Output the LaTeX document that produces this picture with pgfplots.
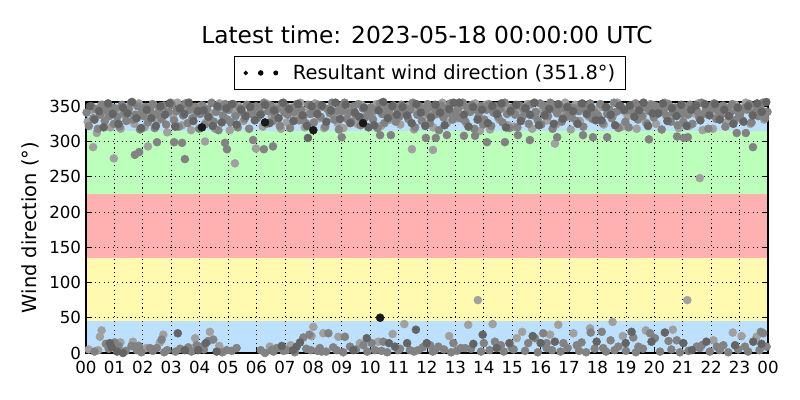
\documentclass[border=0pt]{standalone}
\usepackage{fontspec}
\setmainfont{DejaVu Sans}
\usepackage{pgfplots}
\pgfplotsset{compat=1.18}
\definecolor{bblue}{RGB}{189,224,255}
\definecolor{bgreen}{RGB}{187,255,187}
\definecolor{bred}{RGB}{255,176,176}
\definecolor{byellow}{RGB}{255,250,176}
\definecolor{cblack}{RGB}{25,25,25}
\definecolor{cdark}{RGB}{100,100,100}
\definecolor{cmid}{RGB}{130,130,130}
\definecolor{clight}{RGB}{160,160,160}
\begin{document}
\begin{tikzpicture}
\begin{axis}[
  set layers=standard,
  at={(61.92pt,33.84pt)}, anchor=south west,
  scale only axis, width=491.04pt, height=180.72pt,
  xmin=0, xmax=24, ymin=0, ymax=356,
  xtick={0,1,...,24},
  xticklabels={00,01,02,03,04,05,06,07,08,09,10,11,12,13,14,15,16,17,18,19,20,21,22,23,00},
  ytick={0,50,100,150,200,250,300,350},
  /pgf/number format/assume math mode=true,
  tick label style={font=\fontsize{12}{14}\selectfont},
  xticklabel style={yshift=-2.4pt},
  tick align=inside, major tick length=3.6pt,
  every tick/.style={black, line width=0.6pt},
  axis line style={line width=0.8pt},
  grid=major,
  major grid style={black, line width=0.5pt, dash pattern=on 0.8pt off 2.4pt},
  title={Latest time: 2023-05-18 00:00:00 UTC},
  title style={font=\fontsize{16.8}{20}\selectfont, at={(0.5,1)}, anchor=center, yshift=42.5pt},
  ylabel={Wind direction (°)},
  every axis y label/.style={at={(axis description cs:-0.082,0.5)}, rotate=90, anchor=center, font=\fontsize{14}{16}\selectfont},
  legend style={at={(0.5,1.05)}, anchor=south, xshift=2pt, draw=black, line width=0.6pt,
    font=\fontsize{14}{16}\selectfont, inner xsep=5pt, inner ysep=3.5pt},
  legend cell align=left,
  only marks,
]
\addlegendimage{legend image code/.code={
  \path[draw=none, fill=none] (-3pt,-0.5pt) rectangle (32pt,0.5pt);
  \fill[black] (0pt,0pt) circle (1.25pt);
  \fill[black] (10.8pt,0pt) circle (1.65pt);
  \fill[black] (21.6pt,0pt) circle (1.45pt);}}
\addlegendentry{Resultant wind direction (351.8°)}

% background bands
\addplot[forget plot, on layer=axis background, draw=none, fill=bblue, sharp plot] coordinates {(0,0) (24,0) (24,45) (0,45)} -- cycle;
\addplot[forget plot, on layer=axis background, draw=none, fill=byellow, sharp plot] coordinates {(0,45) (24,45) (24,135) (0,135)} -- cycle;
\addplot[forget plot, on layer=axis background, draw=none, fill=bred, sharp plot] coordinates {(0,135) (24,135) (24,225) (0,225)} -- cycle;
\addplot[forget plot, on layer=axis background, draw=none, fill=bgreen, sharp plot] coordinates {(0,225) (24,225) (24,315) (0,315)} -- cycle;
\addplot[forget plot, on layer=axis background, draw=none, fill=bblue, sharp plot] coordinates {(0,315) (24,315) (24,356) (0,356)} -- cycle;

% light points
\addplot[forget plot, clight, mark=*, mark size=2.9pt, mark options={line width=0.3pt}] coordinates {
(0.06,328)(0.22,345)(0.38,312)(0.54,352)(0.70,337)(0.86,320)
(1.06,343)(1.22,318)(1.38,336)(1.54,349)(1.70,325)(1.86,354)
(2.06,320)(2.22,341)(2.38,352)(2.54,330)(2.70,346)(2.86,313)
(3.06,337)(3.22,355)(3.38,323)(3.54,344)(3.70,316)(3.86,349)
(4.06,351)(4.22,327)(4.38,340)(4.54,318)(4.70,354)(4.86,333)
(5.06,316)(5.22,342)(5.38,350)(5.54,329)(5.70,338)(5.86,347)
(6.06,344)(6.22,321)(6.38,353)(6.54,335)(6.70,349)(6.86,318)
(7.06,327)(7.22,348)(7.38,336)(7.54,355)(7.70,320)(7.86,342)
(8.06,354)(8.22,333)(8.38,319)(8.54,345)(8.70,338)(8.86,326)
(9.06,319)(9.22,340)(9.38,347)(9.54,325)(9.70,352)(9.86,336)
(10.06,338)(10.22,353)(10.38,322)(10.54,345)(10.70,331)(10.86,349)
(11.06,324)(11.22,343)(11.38,351)(11.54,317)(11.70,346)(11.86,334)
(12.06,347)(12.22,320)(12.38,339)(12.54,355)(12.70,326)(12.86,343)
(13.06,333)(13.22,351)(13.38,326)(13.54,342)(13.70,354)(13.86,315)
(14.06,352)(14.22,317)(14.38,344)(14.54,331)(14.70,349)(14.86,323)
(15.06,321)(15.22,346)(15.38,337)(15.54,353)(15.70,318)(15.86,340)
(16.06,343)(16.22,330)(16.38,352)(16.54,324)(16.70,339)(16.86,355)
(17.06,317)(17.22,352)(17.38,329)(17.54,347)(17.70,335)(17.86,344)
(18.06,348)(18.22,324)(18.38,343)(18.54,336)(18.70,355)(18.86,321)
(19.06,336)(19.22,350)(19.38,318)(19.54,344)(19.70,327)(19.86,353)
(20.06,325)(20.22,343)(20.38,355)(20.54,333)(20.70,347)(20.86,319)
(21.06,350)(21.22,322)(21.38,340)(21.54,354)(21.70,316)(21.86,345)
(22.06,318)(22.22,339)(22.38,349)(22.54,327)(22.70,344)(22.86,352)
(23.06,344)(23.22,355)(23.38,325)(23.54,338)(23.70,350)(23.86,331)
(0.25,292)(0.98,276)(2.18,293)(4.19,300)(5.24,269)(5.98,290)(11.47,289)(12.21,288)(16.5,297)(21.6,248)
(0.10,5)(0.43,4)(0.55,32)(0.49,23)(1.21,15)(1.65,16)(2.13,7)(2.6,15)(2.72,26)(3.84,21)(4.36,30)(4.69,10)
(6.47,9)(7.20,11)(7.94,24)(8.0,37)(8.35,28)(8.88,23)(9.64,14)(10.28,16)(10.79,27)(11.2,41)(12.78,24)
(13.45,40)(13.79,75)(14.31,41)(15.16,21)(15.35,30)(16.33,26)(16.62,40)(17.15,28)(17.74,35)(18.53,44)
(18.89,24)(19.70,32)(20.65,33)(21.16,75)(22.08,18)(22.76,29)(23.07,24)(23.60,23)
};

% mid points
\addplot[forget plot, cmid, mark=*, mark size=2.9pt, mark options={line width=0.3pt}] coordinates {
(0.02,341)(0.10,322)(0.18,350)(0.26,333)(0.34,346)(0.42,318)(0.50,338)(0.58,352)(0.66,329)(0.74,344)(0.82,336)(0.90,348)(0.98,325)
(1.02,347)(1.10,335)(1.18,321)(1.26,352)(1.34,340)(1.42,329)(1.50,345)(1.58,355)(1.66,331)(1.74,338)(1.82,350)(1.90,317)(1.98,343)
(2.02,336)(2.10,349)(2.18,327)(2.26,344)(2.34,353)(2.42,319)(2.50,339)(2.58,347)(2.66,332)(2.74,351)(2.82,324)(2.90,342)(2.98,355)
(3.02,352)(3.10,330)(3.18,343)(3.26,321)(3.34,348)(3.42,337)(3.50,354)(3.58,326)(3.66,345)(3.74,333)(3.82,349)(3.90,340)(3.98,318)
(4.02,339)(4.10,351)(4.18,324)(4.26,346)(4.34,334)(4.42,355)(4.50,328)(4.58,342)(4.66,316)(4.74,349)(4.82,337)(4.90,353)(4.98,331)
(5.02,345)(5.10,327)(5.18,353)(5.26,336)(5.34,320)(5.42,347)(5.50,341)(5.58,332)(5.66,352)(5.74,318)(5.82,344)(5.90,338)(5.98,350)
(6.02,333)(6.10,348)(6.18,340)(6.26,355)(6.34,325)(6.42,343)(6.50,351)(6.58,329)(6.66,337)(6.74,346)(6.82,322)(6.90,354)(6.98,341)
(7.02,350)(7.10,338)(7.18,319)(7.26,347)(7.34,342)(7.42,353)(7.50,330)(7.58,345)(7.66,336)(7.74,326)(7.82,352)(7.90,339)(7.98,348)
(8.02,327)(8.10,344)(8.18,352)(8.26,335)(8.34,349)(8.42,321)(8.50,346)(8.58,340)(8.66,355)(8.74,331)(8.82,343)(8.90,317)(8.98,351)
(9.02,343)(9.10,355)(9.18,332)(9.26,341)(9.34,328)(9.42,350)(9.50,337)(9.58,353)(9.66,323)(9.74,347)(9.82,334)(9.90,345)(9.98,339)
(10.02,348)(10.10,331)(10.18,345)(10.26,319)(10.34,354)(10.42,339)(10.50,326)(10.58,349)(10.66,342)(10.74,336)(10.82,351)(10.90,328)(10.98,344)
(11.02,335)(11.10,352)(11.18,340)(11.26,347)(11.34,332)(11.42,345)(11.50,355)(11.58,320)(11.66,338)(11.74,350)(11.82,329)(11.90,346)(11.98,341)
(12.02,353)(12.10,326)(12.18,349)(12.26,338)(12.34,344)(12.42,316)(12.50,351)(12.58,334)(12.66,347)(12.74,340)(12.82,354)(12.90,331)(12.98,337)
(13.02,340)(13.10,347)(13.18,333)(13.26,355)(13.34,329)(13.42,348)(13.50,342)(13.58,352)(13.66,318)(13.74,345)(13.82,336)(13.90,350)(13.98,324)
(14.02,331)(14.10,345)(14.18,353)(14.26,322)(14.34,341)(14.42,350)(14.50,335)(14.58,346)(14.66,327)(14.74,355)(14.82,339)(14.90,319)(14.98,348)
(15.02,346)(15.10,338)(15.18,320)(15.26,351)(15.34,334)(15.42,344)(15.50,349)(15.58,325)(15.66,353)(15.74,337)(15.82,342)(15.90,330)(15.98,354)
(16.02,324)(16.10,351)(16.18,342)(16.26,336)(16.34,355)(16.42,318)(16.50,345)(16.58,340)(16.66,350)(16.74,328)(16.82,347)(16.90,335)(16.98,343)
(17.02,349)(17.10,334)(17.18,347)(17.26,329)(17.34,343)(17.42,352)(17.50,321)(17.58,346)(17.66,338)(17.74,354)(17.82,332)(17.90,341)(17.98,337)
(18.02,337)(18.10,353)(18.18,326)(18.26,348)(18.34,339)(18.42,345)(18.50,333)(18.58,355)(18.66,342)(18.74,319)(18.82,350)(18.90,344)(18.98,328)
(19.02,344)(19.10,320)(19.18,351)(19.26,340)(19.34,354)(19.42,331)(19.50,347)(19.58,336)(19.66,349)(19.74,325)(19.82,343)(19.90,352)(19.98,334)
(20.02,351)(20.10,339)(20.18,345)(20.26,317)(20.34,346)(20.42,337)(20.50,353)(20.58,328)(20.66,341)(20.74,348)(20.82,323)(20.90,345)(20.98,339)
(21.02,328)(21.10,347)(21.18,338)(21.26,352)(21.34,325)(21.42,349)(21.50,343)(21.58,334)(21.66,355)(21.74,339)(21.82,346)(21.90,318)(21.98,350)
(22.02,346)(22.10,354)(22.18,332)(22.26,343)(22.34,337)(22.42,351)(22.50,321)(22.58,347)(22.66,340)(22.74,353)(22.82,330)(22.90,344)(22.98,336)
(23.02,339)(23.10,330)(23.18,348)(23.26,345)(23.34,353)(23.42,327)(23.50,341)(23.58,350)(23.66,336)(23.74,346)(23.82,355)(23.90,333)(23.98,342)
(1.72,281)(1.87,285)(2.5,299)(3.1,299)(3.48,275)(3.38,298)(4.89,298)(4.96,289)(6.26,289)(6.58,293)(5.88,302)
(9.0,306)(10.35,309)(10.73,309)(11.96,305)(12.31,305)(12.7,309)(13.3,308)(13.69,308)(14.11,299)(14.74,299)
(15.2,309)(15.62,302)(16.58,306)(17.49,309)(17.84,306)(18.34,306)(19.81,303)(20.8,307)(21.04,305)(21.18,306)
(22.9,312)(23.22,312)(23.47,292)
(0.70,13)(1.01,15)(1.15,10)(1.6,10)(1.72,9)(1.79,4)(1.86,10)(2.25,7)(2.49,7)(2.66,19)(2.86,4)(3.31,6)(3.71,2)
(3.89,11)(4.07,9)(4.30,17)(4.48,19)(4.95,4)(5.13,3)(5.30,7)(6.30,0)(6.53,4)(6.71,7)(7.06,4)(7.65,22)(7.86,26)
(7.91,4)(8.53,28)(8.23,7)(8.29,2)(8.82,4)(9.11,23)(9.29,9)(9.76,11)(10.05,14)(10.17,4)(10.46,16)(10.99,4)
(11.40,4)(11.69,4)(12.11,11)(12.28,4)(12.40,9)(12.93,14)(13.19,7)(13.34,7)(14.00,14)(14.39,16)(14.60,11)
(14.98,7)(15.56,14)(15.80,21)(16.09,28)(16.21,7)(16.21,14)(16.80,14)(17.27,11)(17.44,15)(17.76,29)(18.15,30)
(18.20,7)(18.46,18)(18.73,9)(19.26,22)(19.44,9)(19.85,28)(20.02,21)(20.50,17)(20.79,18)(21.49,9)(21.67,11)
(22.20,9)(22.43,11)(23.19,9)(23.75,30)(23.83,28)(23.95,9)
(0.3,2)(0.8,6)(1.4,3)(1.95,1)(2.35,3)(2.75,1)(3.15,2)(3.6,8)(4.15,5)(4.8,1)(6.15,4)(6.6,2)(6.95,3)(7.35,1)
(7.75,6)(8.15,3)(8.45,2)(8.7,8)(9.05,1)(9.5,5)(9.9,2)(10.4,3)(10.6,1)(11.05,6)(11.55,2)(11.85,8)(12.2,2)
(12.6,5)(12.85,1)(13.05,3)(13.55,6)(13.9,2)(14.2,4)(14.7,2)(15.05,5)(15.45,3)(15.9,1)(16.4,4)(16.7,2)
(16.95,7)(17.35,3)(17.6,1)(17.9,6)(18.3,2)(18.6,4)(19.0,3)(19.35,1)(19.6,6)(20.2,2)(20.6,5)(20.9,1)(21.2,3)
(21.6,7)(21.95,2)(22.3,4)(22.6,1)(22.95,5)(23.3,2)(23.7,4)
};

% dark points
\addplot[forget plot, cdark, mark=*, mark size=2.9pt, mark options={line width=0.3pt}] coordinates {
(0.14,350)(0.30,331)(0.46,343)(0.62,320)(0.78,354)(0.94,339)
(1.14,325)(1.30,348)(1.46,340)(1.62,356)(1.78,333)(1.94,319)
(2.14,345)(2.30,333)(2.46,322)(2.62,350)(2.78,338)(2.94,354)
(3.14,321)(3.30,347)(3.46,339)(3.62,355)(3.78,329)(3.94,343)
(4.14,344)(4.30,335)(4.46,322)(4.62,350)(4.78,327)(4.94,347)
(5.14,353)(5.30,324)(5.46,345)(5.62,336)(5.78,349)(5.94,330)
(6.14,338)(6.30,352)(6.46,326)(6.62,344)(6.78,333)(6.94,355)
(7.14,346)(7.30,329)(7.46,353)(7.62,337)(7.78,322)(7.94,350)
(8.14,339)(8.30,351)(8.46,328)(8.62,344)(8.78,355)(8.94,332)
(9.14,352)(9.30,326)(9.46,341)(9.62,335)(9.78,348)(9.94,320)
(10.14,323)(10.30,344)(10.46,356)(10.62,333)(10.78,350)(10.94,338)
(11.14,349)(11.30,337)(11.46,326)(11.62,353)(11.78,341)(11.94,322)
(12.14,334)(12.30,352)(12.46,341)(12.62,323)(12.78,346)(12.94,355)
(13.14,355)(13.30,338)(13.46,321)(13.62,349)(13.78,331)(13.94,345)
(14.14,326)(14.30,350)(14.46,339)(14.62,354)(14.78,320)(14.94,343)
(15.14,352)(15.30,329)(15.46,347)(15.62,338)(15.78,355)(15.94,323)
(16.14,337)(16.30,346)(16.46,325)(16.62,353)(16.78,332)(16.94,349)
(17.14,343)(17.30,325)(17.46,354)(17.62,339)(17.78,348)(17.94,330)
(18.14,330)(18.30,349)(18.46,338)(18.62,323)(18.78,351)(18.94,345)
(19.14,351)(19.30,335)(19.46,344)(19.62,355)(19.78,322)(19.94,340)
(20.14,340)(20.30,354)(20.46,329)(20.62,347)(20.78,336)(20.94,352)
(21.14,322)(21.30,345)(21.46,351)(21.62,330)(21.78,353)(21.94,337)
(22.14,353)(22.30,331)(22.46,345)(22.62,336)(22.78,325)(22.94,348)
(23.14,328)(23.30,350)(23.46,337)(23.62,354)(23.78,342)(23.94,356)
(7.81,305)
(0.84,14)(0.90,8)(1.09,2)(1.30,0)(3.23,28)(3.48,4)(3.95,4)(4.22,14)(4.60,2)(6.89,10)(7.29,4)(7.41,9)
(7.53,15)(9.41,4)(9.88,21)(10.66,14)(10.87,9)(11.30,14)(11.61,33)(11.99,14)(13.63,13)(13.96,26)
(14.45,7)(14.90,14)(15.72,24)(16.0,14)(16.50,16)(17.97,16)(18.99,14)(19.20,30)(19.90,16)(20.37,29)
(21.02,14)(21.32,4)(21.83,16)(22.84,11)(23.48,16)(23.77,13)
};

% darkest points
\addplot[forget plot, cblack, mark=*, mark size=2.9pt, mark options={line width=0.3pt}] coordinates {
(4.08,320)(6.30,327)(8.0,316)(9.75,326)(10.35,50)
};
\end{axis}
\path (0,0) rectangle (576pt,288pt);
\end{tikzpicture}
\end{document}
